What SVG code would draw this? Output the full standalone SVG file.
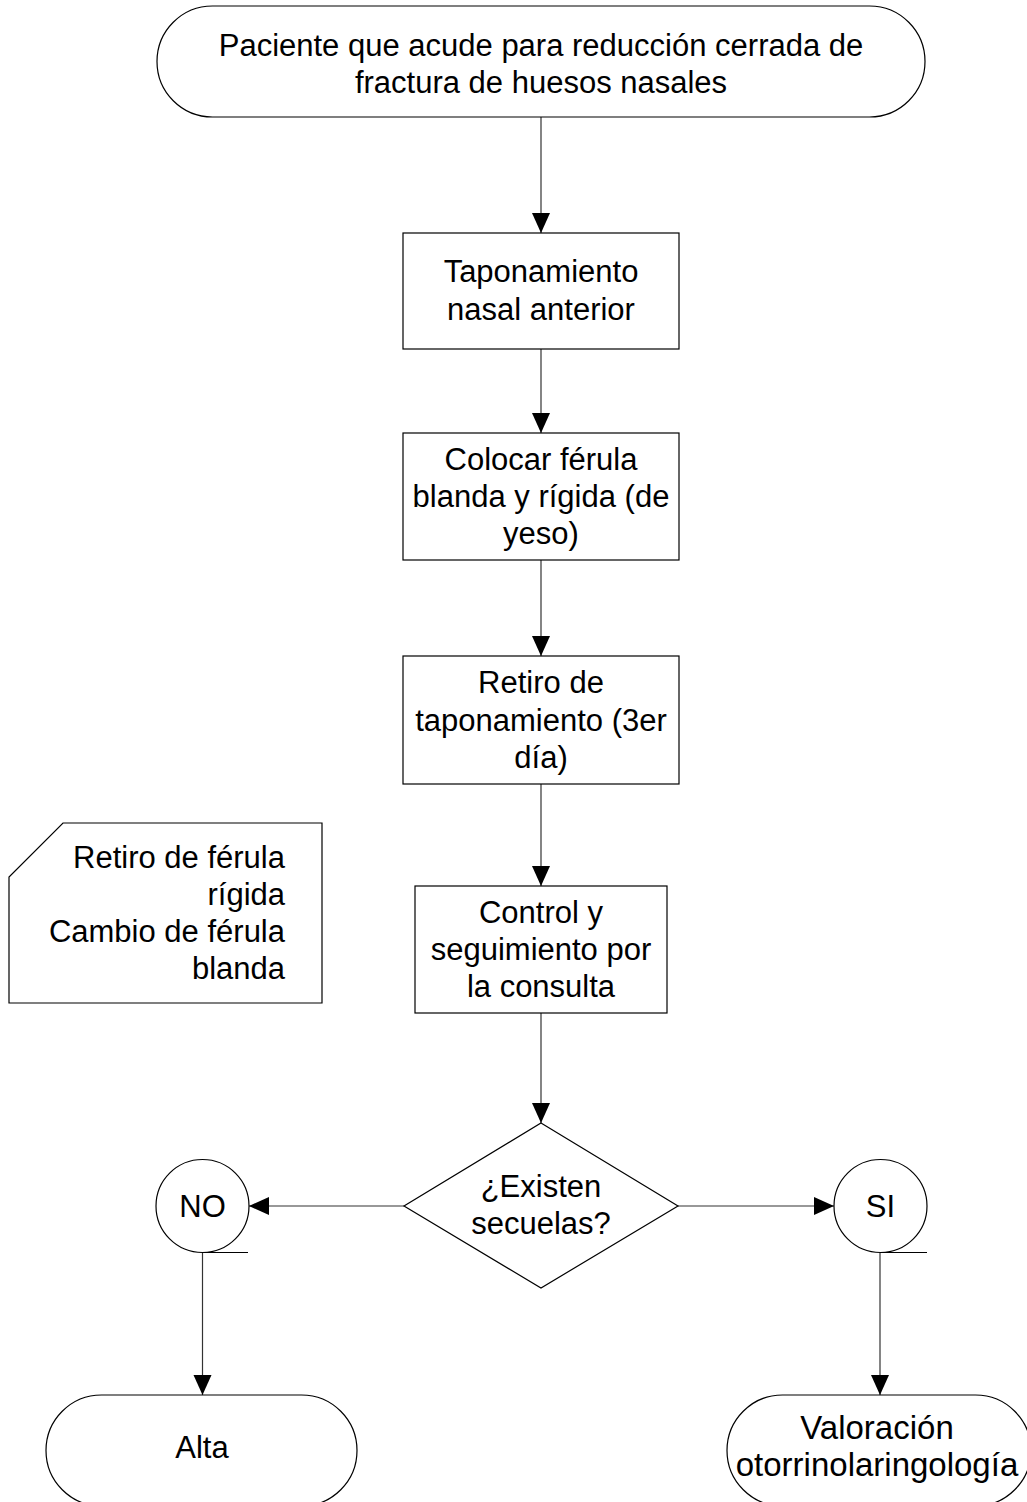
<svg xmlns="http://www.w3.org/2000/svg" width="1027" height="1502" viewBox="0 0 1027 1502">
<style>
.s{fill:#fff;stroke:#000;stroke-width:1.2}
.t{font-family:"Liberation Sans",Arial,sans-serif;font-size:31px;fill:#000;text-anchor:middle}
.r{text-anchor:end}
.c{fill:none;stroke:#333;stroke-width:1.2}
</style>
<defs>
<marker id="ah" markerUnits="userSpaceOnUse" markerWidth="20" markerHeight="20" viewBox="0 0 20 20" refX="20" refY="10" orient="auto">
<path d="M0,1 L20,10 L0,19 Z" fill="#000"/>
</marker>
</defs>
<rect width="1027" height="1502" fill="#fff"/>
<g id="connectors">
<line class="c" x1="541" y1="117" x2="541" y2="233" marker-end="url(#ah)"/>
<line class="c" x1="541" y1="349" x2="541" y2="433" marker-end="url(#ah)"/>
<line class="c" x1="541" y1="560" x2="541" y2="656" marker-end="url(#ah)"/>
<line class="c" x1="541" y1="784" x2="541" y2="886" marker-end="url(#ah)"/>
<line class="c" x1="541" y1="1013" x2="541" y2="1123" marker-end="url(#ah)"/>
<line class="c" x1="404" y1="1206" x2="249" y2="1206" marker-end="url(#ah)"/>
<line class="c" x1="678" y1="1206" x2="834" y2="1206" marker-end="url(#ah)"/>
<line class="c" x1="202.5" y1="1252.5" x2="202.5" y2="1395" marker-end="url(#ah)"/>
<line class="c" x1="880" y1="1252.5" x2="880" y2="1395" marker-end="url(#ah)"/>
</g>
<g id="start">
<rect class="s" x="157" y="6" width="768" height="111" rx="55.5" ry="55.5"/>
<text class="t" x="541" y="56">Paciente que acude para reducción cerrada de</text>
<text class="t" x="541" y="93">fractura de huesos nasales</text>
</g>
<g id="taponamiento">
<rect class="s" x="403" y="233" width="276" height="116"/>
<text class="t" x="541" y="282">Taponamiento</text>
<text class="t" x="541" y="320">nasal anterior</text>
</g>
<g id="ferula">
<rect class="s" x="403" y="433" width="276" height="127"/>
<text class="t" x="541" y="470">Colocar férula</text>
<text class="t" x="541" y="507">blanda y rígida (de</text>
<text class="t" x="541" y="544">yeso)</text>
</g>
<g id="retiro">
<rect class="s" x="403" y="656" width="276" height="128"/>
<text class="t" x="541" y="693">Retiro de</text>
<text class="t" x="541" y="731">taponamiento (3er</text>
<text class="t" x="541" y="768">día)</text>
</g>
<g id="control">
<rect class="s" x="415" y="886" width="252" height="127"/>
<text class="t" x="541" y="923">Control y</text>
<text class="t" x="541" y="960">seguimiento por</text>
<text class="t" x="541" y="997">la consulta</text>
</g>
<g id="nota">
<polygon class="s" points="63,823 322,823 322,1003 9,1003 9,877"/>
<text class="t r" x="285" y="868">Retiro de férula</text>
<text class="t r" x="285" y="905">rígida</text>
<text class="t r" x="285" y="942">Cambio de férula</text>
<text class="t r" x="285" y="979">blanda</text>
</g>
<g id="decision">
<polygon class="s" points="541,1123 678,1206 541,1288 404,1206"/>
<text class="t" x="541" y="1197">¿Existen</text>
<text class="t" x="541" y="1234">secuelas?</text>
</g>
<g id="no">
<circle class="s" cx="202.5" cy="1206" r="46.5"/>
<line class="s" x1="202.5" y1="1252.5" x2="248" y2="1252.5"/>
<text class="t" x="202.5" y="1217">NO</text>
</g>
<g id="si">
<circle class="s" cx="880.5" cy="1206" r="46.5"/>
<line class="s" x1="880" y1="1252.5" x2="927" y2="1252.5"/>
<text class="t" x="880.5" y="1217">SI</text>
</g>
<g id="alta">
<rect class="s" x="46" y="1395" width="311" height="111" rx="55.5" ry="55.5"/>
<text class="t" x="202" y="1458">Alta</text>
</g>
<g id="valoracion">
<rect class="s" x="727" y="1395" width="304" height="111" rx="55.5" ry="55.5"/>
<text class="t" x="877" y="1439" style="font-size:33px">Valoración</text>
<text class="t" x="877" y="1476" style="font-size:33px">otorrinolaringología</text>
</g>
</svg>
